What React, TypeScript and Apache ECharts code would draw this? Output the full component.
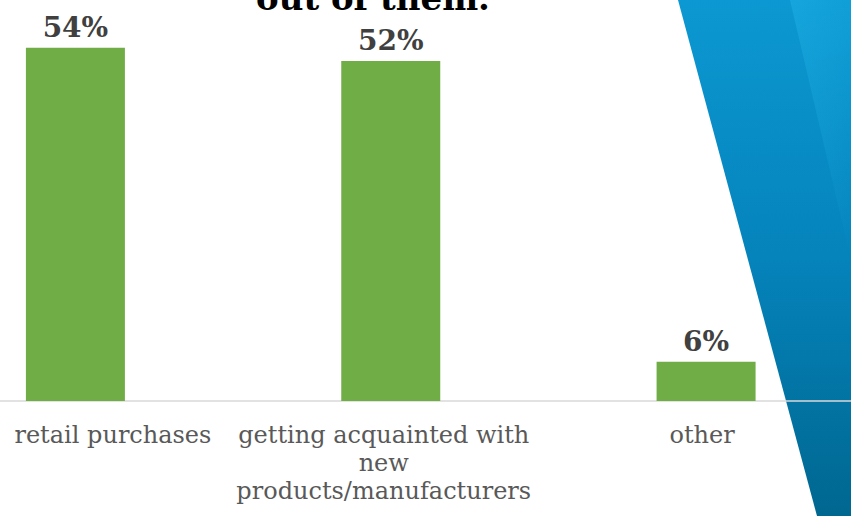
import React, { useEffect, useRef } from "react";
import * as echarts from "echarts";

const categories = ["retail purchases", "getting acquainted with\nnew\nproducts/manufacturers", "other"];
const values = [54, 52, 6];
const titleText = "out of them.";
const labelPaddings = [[0, 0, 0, 75], [0, 14, 0, 0], [0, 8, 0, 0]];

export default function App() {
  const ref = useRef<HTMLDivElement>(null);
  useEffect(() => {
    document.body.style.margin = "0";
    const chart = echarts.init(ref.current!, null, { renderer: "svg" });
    const font = "'DejaVu Serif', Georgia, serif";
    chart.setOption({
      animation: false,
      backgroundColor: "#ffffff",
      graphic: [
        {
          type: "polygon",
          z: -10,
          silent: true,
          shape: { points: [[678, 0], [851, 0], [851, 516], [817, 516]] },
          style: {
            fill: new echarts.graphic.LinearGradient(0, 0, 0, 1, [
              { offset: 0, color: "#0c98d2" },
              { offset: 0.5, color: "#0583bb" },
              { offset: 1, color: "#006790" },
            ]),
          },
        },
        {
          type: "polygon",
          z: -9,
          silent: true,
          shape: { points: [[790, 0], [851, 0], [851, 260]] },
          style: {
            fill: new echarts.graphic.LinearGradient(0, 0, 1, 1, [
              { offset: 0, color: "rgba(40,190,240,0.35)" },
              { offset: 1, color: "rgba(40,190,240,0.0)" },
            ]),
          },
        },
        {
          type: "text",
          z: 10,
          left: 256,
          top: -19,
          style: {
            text: titleText,
            font: `bold 34px ${font}`,
            fill: "#000000",
          },
        },
      ],
      grid: {
        left: -82.25,
        right: -12.75,
        top: 8.6,
        bottom: 115,
        containLabel: false,
        outerBoundsMode: "none",
      },
      xAxis: {
        type: "category",
        data: categories.map((c, i) => ({ value: c, textStyle: { padding: labelPaddings[i] } })),
        axisLine: { show: true, lineStyle: { color: "#d9d9d9", width: 1.5 } },
        axisTick: { show: false },
        axisLabel: {
          interval: 0,
          margin: 20,
          color: "#595959",
          fontFamily: font,
          fontSize: 24,
          lineHeight: 28,
        },
      },
      yAxis: {
        type: "value",
        min: 0,
        max: 60,
        show: false,
        splitLine: { show: false },
      },
      series: [
        {
          type: "bar",
          data: values,
          barWidth: 99,
          itemStyle: { color: "#70ad47" },
          label: {
            show: true,
            position: "top",
            distance: 6,
            formatter: "{c}%",
            color: "#404040",
            fontFamily: font,
            fontWeight: "bold",
            fontSize: 28,
          },
        },
      ],
    });
    return () => chart.dispose();
  }, []);
  return <div ref={ref} style={{ width: 851, height: 516 }} />;
}
